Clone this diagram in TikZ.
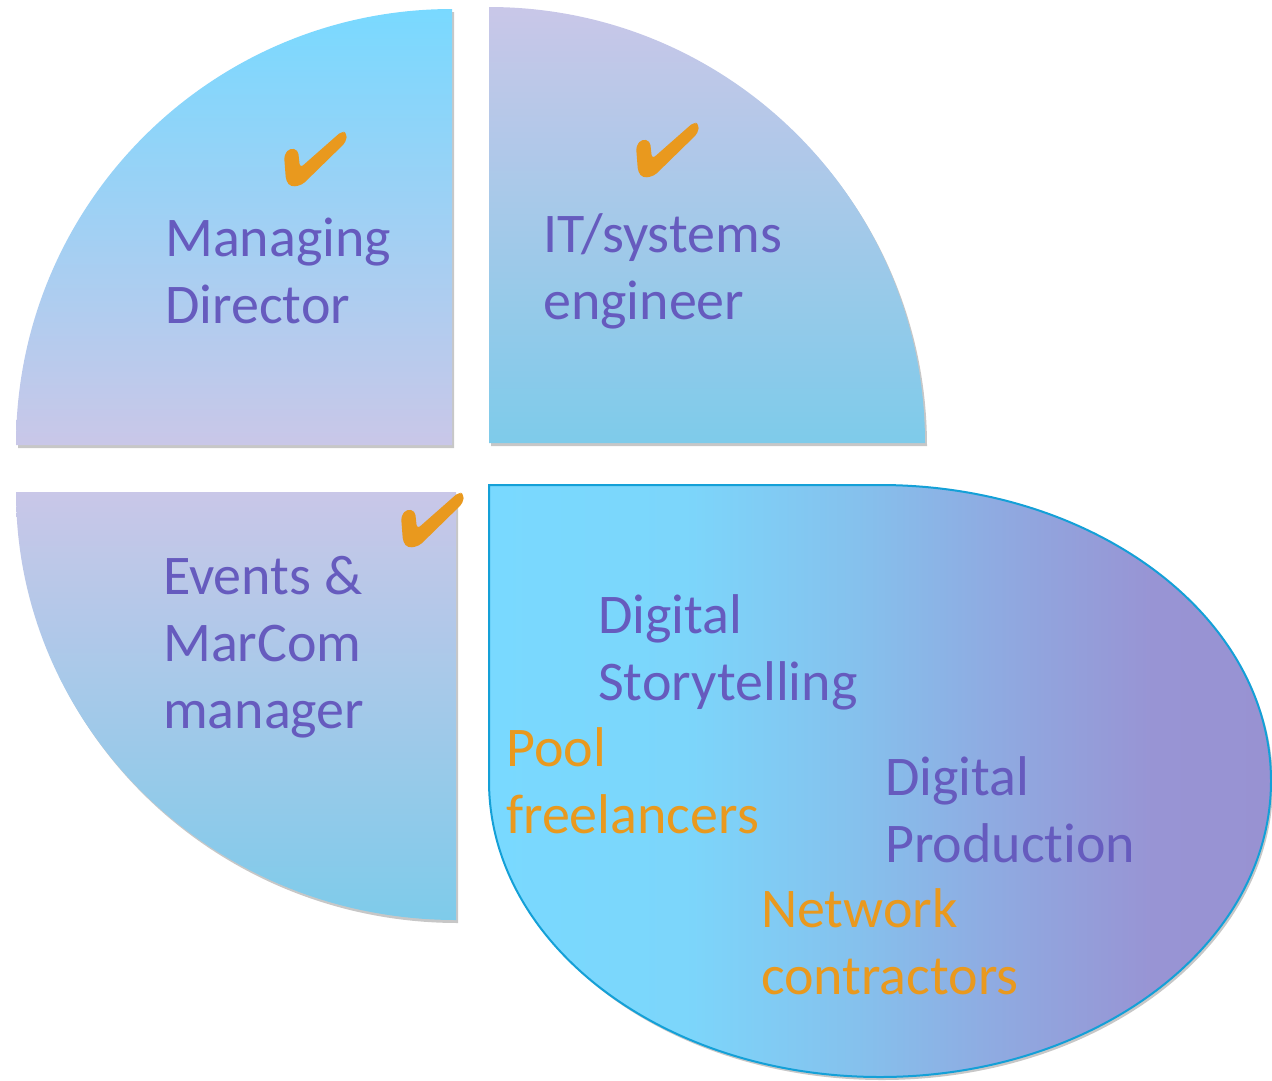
\documentclass[tikz,border=0pt]{standalone}
\usepackage{fontspec}
\setmainfont[Ligatures={NoCommon}]{Carlito}
\usetikzlibrary{shadows}
\definecolor{cyanL}{RGB}{121,217,255}
\definecolor{lav}{RGB}{201,199,232}
\definecolor{blueB}{RGB}{126,203,234}
\definecolor{purR}{RGB}{152,146,210}
\definecolor{txtP}{RGB}{102,91,190}
\definecolor{txtO}{RGB}{233,153,30}
\definecolor{edgeB}{RGB}{20,160,215}
\pgfdeclarehorizontalshading{qfour}{100bp}{rgb(0bp)=(0.475,0.851,1); rgb(25bp)=(0.475,0.851,1); rgb(37.5bp)=(0.486,0.839,0.984); rgb(48.5bp)=(0.522,0.757,0.929); rgb(57.5bp)=(0.561,0.667,0.882); rgb(67.5bp)=(0.596,0.580,0.831); rgb(75bp)=(0.596,0.573,0.824); rgb(100bp)=(0.596,0.573,0.824)}
\tikzset{
  x=1pt, y=-1pt,
  quad/.style={drop shadow={shadow xshift=2pt, shadow yshift=-3pt, opacity=0.22, fill=black}},
  lbl/.style={inner sep=0pt, anchor=base west, align=left, font=\fontsize{56}{67}\selectfont},
  chk/.pic={\path[fill=txtO, rounded corners=4pt] (24,45) -- (30,38) -- (38,40) -- (40,58) -- (82,21) -- (87,23) -- (86,32) -- (42,75) -- (31,77) -- (26,71) -- cycle;}
}
\begin{document}
\begin{tikzpicture}
\useasboundingbox (0,0) rectangle (1272,1080);
% Q1
\path[quad, top color=cyanL, bottom color=lav] (452,445) -- (16,445) arc[start angle=180, end angle=270, radius=436] -- cycle;
% Q2
\path[quad, top color=lav, bottom color=blueB] (489,443) -- (489,7) arc[start angle=270, end angle=360, radius=436] -- cycle;
% Q3
\path[quad, top color=lav, bottom color=blueB] (456,492) -- (16,492) arc[start angle=180, end angle=90, x radius=440, y radius=428] -- cycle;
% Q4
\path[quad, shading=qfour, draw=edgeB, line width=2pt] (489,485) -- (880,485) arc[start angle=270, end angle=540, x radius=391, y radius=296] -- cycle;
% check marks
\pic at (260,110) {chk};
\pic at (612,101) {chk};
\pic at (377,471) {chk};
% labels (anchor = baseline of last line)
\node[lbl, text=txtP] (md) at (165,323) {Managing\\Director};
\node[lbl, text=txtP] (it) at (543,319) {IT/systems\\engineer};
\node[lbl, text=txtP] (ev) at (163,728) {Events \&\\MarCom\\manager};
\node[lbl, text=txtP] (ds) at (598,700) {Digital\\Storytelling};
\node[lbl, text=txtO] (pf) at (506,833) {Pool\\freelancers};
\node[lbl, text=txtP] (dp) at (885,862) {Digital\\Production};
\node[lbl, text=txtO] (nc) at (761,994) {Network\\contractors};
\end{tikzpicture}
\end{document}
